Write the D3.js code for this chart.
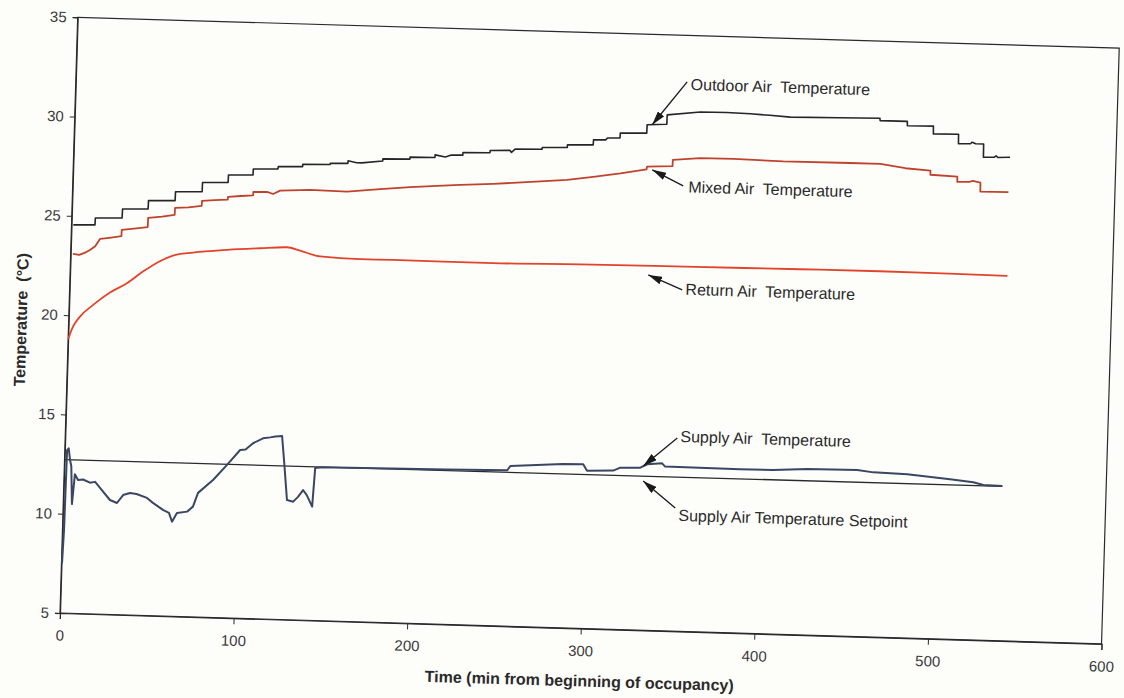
<!DOCTYPE html>
<html><head><meta charset="utf-8">
<script src="https://cdn.jsdelivr.net/npm/d3@7"></script>
<style>
html,body{margin:0;padding:0;background:#fdfdfa;}
svg{display:block;font-family:"Liberation Sans",Arial,sans-serif;}
</style></head><body>
<svg id="chart" width="1124" height="698"></svg>
<script>
// ---- data (time in minutes, temperature in °C) ----
const xTicks = [0, 100, 200, 300, 400, 500, 600];
const yTicks = [5, 10, 15, 20, 25, 30, 35];

const outdoorAir = [[1,24.55],[13.5,24.58],[13.6,24.93],[29,24.97],[29.1,25.42],[43.8,25.46],[43.9,25.88],[59.2,25.92],[59.3,26.37],[74.6,26.41],[74.7,26.87],[89.4,26.91],[89.5,27.29],[103.6,27.33],[103.7,27.63],[117.9,27.67],[118,27.79],[132,27.82],[132.1,27.94],[147.8,27.97],[147.9,28.03],[158,28.05],[158.1,28.18],[163,28.1],[166,28.1],[178,28.22],[178.1,28.33],[193.6,28.36],[193.7,28.46],[208,28.48],[208.1,28.61],[214,28.52],[217,28.62],[224,28.64],[224.1,28.77],[239.6,28.8],[239.7,28.91],[251,28.95],[252,28.85],[254,29.02],[269.5,29.05],[269.6,29.14],[284,29.18],[284.1,29.31],[298.9,29.35],[299,29.6],[306,29.62],[307,29.72],[314.2,29.74],[314.3,29.98],[329.5,30.02],[329.6,30.44],[340.9,30.5],[341,30.97],[360,31.16],[375,31.18],[388.8,31.15],[400,31.1],[411.9,31.04],[440,31.08],[463.5,31.12],[463.6,31.0],[479.3,31.0],[479.4,30.78],[494.4,30.8],[494.5,30.41],[509,30.43],[509.1,29.95],[516,29.97],[517,30.05],[519,29.98],[523.6,29.98],[523.7,29.31],[530,29.33],[531,29.4],[532,29.32],[539,29.35]];

const mixedAir = [[1.3,23.09],[5,23.05],[9,23.2],[11,23.31],[14,23.5],[16.6,23.88],[22,23.95],[28.9,24.05],[29,24.37],[36,24.45],[43.9,24.55],[44,25.01],[52,25.1],[59.2,25.2],[59.3,25.55],[67,25.6],[74.6,25.7],[74.7,25.95],[82,26.0],[89.5,26.05],[89.6,26.19],[97,26.25],[104,26.3],[104.1,26.47],[112,26.5],[115.5,26.4],[119.5,26.58],[136.7,26.66],[158,26.63],[177,26.8],[194.3,26.95],[209.8,27.05],[223,27.14],[242,27.24],[269,27.43],[284.5,27.55],[300.6,27.76],[315,27.96],[330,28.2],[330.3,28.34],[344.9,28.4],[345,28.71],[360.7,28.84],[380,28.85],[408.6,28.8],[447,28.82],[464.5,28.82],[479,28.64],[493.4,28.56],[493.5,28.35],[509,28.3],[509.1,28.03],[516,28.05],[518,28.1],[522.4,28.03],[522.5,27.58],[538.7,27.59]];

const returnAir = [[0,18.8],[2.6,19.43],[6.4,19.94],[13.8,20.55],[23.3,21.2],[32.9,21.69],[41.9,22.3],[51.5,22.85],[58.9,23.15],[70.4,23.33],[90,23.52],[109,23.65],[124.4,23.74],[132,23.59],[143.6,23.33],[166.7,23.25],[185.7,23.26],[243.3,23.25],[293.4,23.32],[360,23.36],[420,23.4],[466,23.42],[506,23.4],[539.5,23.37]];

const supplyAir = [[0.3,7.5],[0.9,9.2],[1.3,13.2],[2.2,13.3],[3.2,12.7],[4,12.4],[5,10.5],[6.2,12.0],[8.1,11.72],[11,11.75],[15,11.6],[18,11.65],[20.9,11.35],[26.8,10.76],[30.9,10.62],[34.3,11.03],[38.2,11.14],[42,11.1],[48.1,10.92],[51.6,10.68],[57.5,10.34],[61,10.2],[62.9,9.76],[65.6,10.21],[71.4,10.29],[74.7,10.55],[77.4,11.25],[85.8,11.92],[93.6,12.7],[100.9,13.47],[104,13.5],[108.2,13.83],[113.9,14.09],[118,14.15],[121,14.2],[124.8,14.24],[126.5,12.89],[128.7,11.02],[132.3,10.95],[135,11.2],[137.8,11.55],[140,11.3],[143.3,10.73],[144.4,12.68],[148.4,12.73],[180,12.75],[220.4,12.8],[255,12.85],[256.7,13.07],[287,13.25],[298.6,13.26],[300.9,12.94],[316,12.99],[320,13.15],[331.5,13.18],[335.5,13.36],[344,13.43],[345.8,13.27],[389,13.25],[408,13.26],[427.6,13.36],[456.5,13.39],[465.7,13.29],[485.3,13.25],[510,13.06],[523.4,12.94],[529.3,12.82],[540.2,12.8]];

const supplySetpoint = [[0,12.72],[540.2,12.78]];

// annotation labels: text anchor and arrow (in data units)
const annotations = [
  {text:"Outdoor Air  Temperature", tx:354, ty:32.26, ax:351.9, ay:32.66, hx:332.5, hy:30.45},
  {text:"Mixed Air  Temperature", tx:354.4, ty:27.1, ax:351.4, ay:27.42, hx:333.3, hy:28.18},
  {text:"Return Air  Temperature", tx:354.5, ty:21.94, ax:352.6, ay:22.19, hx:332.8, hy:22.89},
  {text:"Supply Air  Temperature", tx:354.1, ty:14.53, ax:352.3, ay:14.73, hx:333.2, hy:13.27},
  {text:"Supply Air Temperature Setpoint", tx:354.3, ty:10.56, ax:352.3, ay:11.2, hx:333.4, hy:12.51}
];

// ---- drawing ----
const W = 1124, H = 698;
const pL = 60, pT = 17, pR = 1102, pB = 613;
const svg = d3.select('#chart');
svg.append('rect').attr('width', W).attr('height', H).attr('fill', '#fdfdfa');

svg.append('defs').append('marker')
  .attr('id', 'arrow').attr('viewBox', '0 0 14 8')
  .attr('refX', 14).attr('refY', 4)
  .attr('markerWidth', 14).attr('markerHeight', 8)
  .attr('markerUnits', 'userSpaceOnUse').attr('orient', 'auto')
  .append('path').attr('d', 'M0,0 L14,4 L0,8 Z').attr('fill', '#1a1a1a');

// the scanned original is slightly rotated
const g = svg.append('g').attr('transform', `rotate(1.7,${pL},${pB})`);

const x = d3.scaleLinear().domain([0, 600]).range([pL, pR]);
const y = d3.scaleLinear().domain([5, 35]).range([pB, pT]);

g.append('rect').attr('x', pL).attr('y', pT)
  .attr('width', pR - pL).attr('height', pB - pT)
  .attr('fill', 'none').attr('stroke', '#2a2a2a').attr('stroke-width', 1.2);

const xAxis = g.append('g').attr('transform', `translate(0,${pB})`)
  .call(d3.axisBottom(x).tickValues(xTicks).tickSize(6).tickPadding(11).tickFormat(d3.format('d')));
const yAxis = g.append('g').attr('transform', `translate(${pL},0)`)
  .call(d3.axisLeft(y).tickValues(yTicks).tickSize(5).tickPadding(6).tickFormat(d3.format('d')));
[xAxis, yAxis].forEach(a => {
  a.selectAll('path.domain').attr('stroke', '#2a2a2a').attr('stroke-width', 1.2);
  a.selectAll('line').attr('stroke', '#2a2a2a');
  a.selectAll('text').attr('font-size', 15).attr('fill', '#3a3a3a')
    .attr('font-family', '"Liberation Sans",Arial,sans-serif');
});

g.append('text').attr('x', (pL + pR) / 2).attr('y', 671)
  .attr('text-anchor', 'middle').attr('font-size', 16).attr('font-weight', 'bold')
  .attr('fill', '#2a2a2a').text('Time (min from beginning of occupancy)');
g.append('text').attr('transform', `translate(18,${(pT + pB) / 2 + 6}) rotate(-90)`)
  .attr('text-anchor', 'middle').attr('font-size', 16).attr('font-weight', 'bold')
  .attr('fill', '#2a2a2a').style('white-space', 'pre').text('Temperature  (°C)');

const line = d3.line().x(d => x(d[0])).y(d => y(d[1]));
const smooth = d3.line().x(d => x(d[0])).y(d => y(d[1])).curve(d3.curveMonotoneX);
const series = [
  {data: returnAir, color: '#e2432b', w: 1.8, gen: smooth},
  {data: mixedAir, color: '#bf432c', w: 1.8, gen: line},
  {data: outdoorAir, color: '#262626', w: 1.6, gen: line},
  {data: supplySetpoint, color: '#2a2a2a', w: 1.3, gen: line},
  {data: supplyAir, color: '#3b4663', w: 2, gen: line}
];
series.forEach(s => {
  g.append('path').datum(s.data).attr('d', s.gen)
    .attr('fill', 'none').attr('stroke', s.color).attr('stroke-width', s.w)
    .attr('stroke-linejoin', 'round');
});

const ann = g.append('g');
annotations.forEach(a => {
  ann.append('line')
    .attr('x1', x(a.ax)).attr('y1', y(a.ay))
    .attr('x2', x(a.hx)).attr('y2', y(a.hy))
    .attr('stroke', '#1a1a1a').attr('stroke-width', 1.3)
    .attr('marker-end', 'url(#arrow)');
  ann.append('text').attr('x', x(a.tx)).attr('y', y(a.ty))
    .attr('font-size', 16).attr('fill', '#2a2a2a')
    .style('white-space', 'pre').text(a.text);
});
</script>
</body></html>
